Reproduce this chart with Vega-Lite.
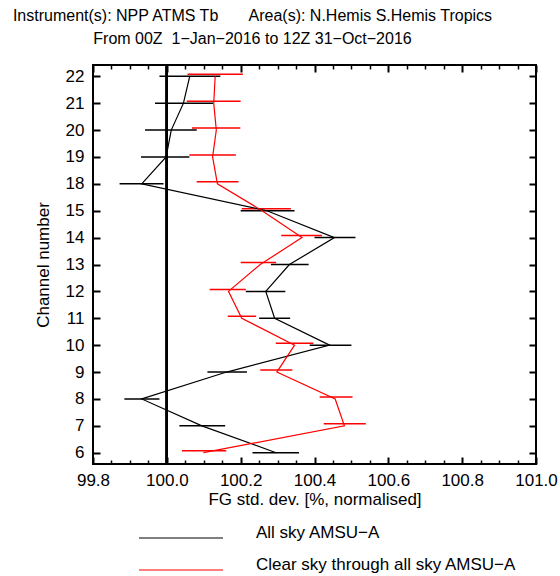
{
  "$schema": "https://vega.github.io/schema/vega-lite/v6.json",
  "autosize": {"type": "none"},
  "padding": {"left": 93, "top": 65, "right": 24, "bottom": 112},
  "width": 443,
  "height": 399,
  "config": {
    "font": "Liberation Sans",
    "view": {"stroke": "#000000", "strokeWidth": 2},
    "axis": {"grid": false, "domain": false, "tickColor": "#000000", "labelColor": "#000000", "titleColor": "#000000", "titleFontWeight": "normal", "labelFont": "Liberation Sans", "titleFont": "Liberation Sans"}
  },
  "title": {
    "text": ["Instrument(s): NPP ATMS Tb\u00a0\u00a0\u00a0\u00a0\u00a0\u00a0 Area(s): N.Hemis S.Hemis Tropics", "From 00Z\u00a0 1\u2212Jan\u22122016 to 12Z 31\u2212Oct\u22122016"],
    "fontSize": 16,
    "font": "Liberation Sans",
    "fontWeight": "normal",
    "color": "#000000",
    "lineHeight": 23,
    "anchor": "middle",
    "dx": -62,
    "offset": 17
  },
  "data": {
    "values": [
      {"series": "All sky AMSU\u2212A", "ch": 22, "val": 100.062, "lo": 99.980, "hi": 100.145},
      {"series": "All sky AMSU\u2212A", "ch": 21, "val": 100.045, "lo": 99.968, "hi": 100.125},
      {"series": "All sky AMSU\u2212A", "ch": 20, "val": 100.012, "lo": 99.941, "hi": 100.081},
      {"series": "All sky AMSU\u2212A", "ch": 19, "val": 99.998, "lo": 99.930, "hi": 100.061},
      {"series": "All sky AMSU\u2212A", "ch": 18, "val": 99.932, "lo": 99.872, "hi": 99.991},
      {"series": "All sky AMSU\u2212A", "ch": 15, "val": 100.271, "lo": 100.200, "hi": 100.346},
      {"series": "All sky AMSU\u2212A", "ch": 14, "val": 100.454, "lo": 100.400, "hi": 100.511},
      {"series": "All sky AMSU\u2212A", "ch": 13, "val": 100.332, "lo": 100.282, "hi": 100.384},
      {"series": "All sky AMSU\u2212A", "ch": 12, "val": 100.268, "lo": 100.214, "hi": 100.321},
      {"series": "All sky AMSU\u2212A", "ch": 11, "val": 100.292, "lo": 100.250, "hi": 100.334},
      {"series": "All sky AMSU\u2212A", "ch": 10, "val": 100.441, "lo": 100.387, "hi": 100.500},
      {"series": "All sky AMSU\u2212A", "ch": 9, "val": 100.162, "lo": 100.110, "hi": 100.217},
      {"series": "All sky AMSU\u2212A", "ch": 8, "val": 99.932, "lo": 99.885, "hi": 99.980},
      {"series": "All sky AMSU\u2212A", "ch": 7, "val": 100.095, "lo": 100.034, "hi": 100.158},
      {"series": "All sky AMSU\u2212A", "ch": 6, "val": 100.296, "lo": 100.232, "hi": 100.358},
      {"series": "Clear sky through all sky AMSU\u2212A", "ch": 22, "val": 100.131, "lo": 100.056, "hi": 100.206},
      {"series": "Clear sky through all sky AMSU\u2212A", "ch": 21, "val": 100.127, "lo": 100.054, "hi": 100.200},
      {"series": "Clear sky through all sky AMSU\u2212A", "ch": 20, "val": 100.134, "lo": 100.068, "hi": 100.199},
      {"series": "Clear sky through all sky AMSU\u2212A", "ch": 19, "val": 100.124, "lo": 100.061, "hi": 100.187},
      {"series": "Clear sky through all sky AMSU\u2212A", "ch": 18, "val": 100.137, "lo": 100.081, "hi": 100.194},
      {"series": "Clear sky through all sky AMSU\u2212A", "ch": 15, "val": 100.258, "lo": 100.203, "hi": 100.336},
      {"series": "Clear sky through all sky AMSU\u2212A", "ch": 14, "val": 100.366, "lo": 100.310, "hi": 100.420},
      {"series": "Clear sky through all sky AMSU\u2212A", "ch": 13, "val": 100.253, "lo": 100.200, "hi": 100.296},
      {"series": "Clear sky through all sky AMSU\u2212A", "ch": 12, "val": 100.167, "lo": 100.116, "hi": 100.214},
      {"series": "Clear sky through all sky AMSU\u2212A", "ch": 11, "val": 100.203, "lo": 100.165, "hi": 100.242},
      {"series": "Clear sky through all sky AMSU\u2212A", "ch": 10, "val": 100.346, "lo": 100.295, "hi": 100.397},
      {"series": "Clear sky through all sky AMSU\u2212A", "ch": 9, "val": 100.298, "lo": 100.253, "hi": 100.340},
      {"series": "Clear sky through all sky AMSU\u2212A", "ch": 8, "val": 100.456, "lo": 100.414, "hi": 100.503},
      {"series": "Clear sky through all sky AMSU\u2212A", "ch": 7, "val": 100.481, "lo": 100.425, "hi": 100.539},
      {"series": "Clear sky through all sky AMSU\u2212A", "ch": 6, "val": 100.099, "lo": 100.041, "hi": 100.161}
    ]
  },
  "resolve": {"axis": {"x": "independent", "y": "independent"}},
  "layer": [
    {
      "transform": [{"filter": "datum.series === 'All sky AMSU\u2212A'"}],
      "mark": {"type": "rule", "color": "#000000", "strokeWidth": 1.5},
      "encoding": {
        "x": {"field": "lo", "type": "quantitative", "scale": {"domain": [99.8, 101.0], "nice": false, "zero": false},
          "axis": {"orient": "bottom", "values": [99.8, 100.0, 100.2, 100.4, 100.6, 100.8, 101.0], "format": ".1f", "tickSize": -7, "tickWidth": 2, "labelPadding": 15, "labelFontSize": 17, "labelFlush": false, "labelOverlap": false, "title": "FG std. dev. [%, normalised]", "titleFontSize": 17, "titlePadding": 3}},
        "x2": {"field": "hi"},
        "y": {"field": "ch", "type": "ordinal", "scale": {"type": "point", "domain": [22, 21, 20, 19, 18, 15, 14, 13, 12, 11, 10, 9, 8, 7, 6], "padding": 0.42},
          "axis": {"orient": "left", "tickSize": -7, "tickWidth": 2, "labelPadding": 16, "labelFontSize": 17, "title": "Channel number", "titleFontSize": 17, "titlePadding": 13}}
      }
    },
    {
      "transform": [{"filter": "datum.series !== 'All sky AMSU\u2212A'"}],
      "mark": {"type": "rule", "color": "#ff0000", "strokeWidth": 1.5, "yOffset": -2},
      "encoding": {
        "x": {"field": "lo", "type": "quantitative",
          "axis": {"orient": "bottom", "values": [99.85, 99.9, 99.95, 100.05, 100.1, 100.15, 100.25, 100.3, 100.35, 100.45, 100.5, 100.55, 100.65, 100.7, 100.75, 100.85, 100.9, 100.95], "tickSize": -4, "tickWidth": 1.5, "labels": false, "title": null}},
        "x2": {"field": "hi"},
        "y": {"field": "ch", "type": "ordinal",
          "axis": {"orient": "right", "tickSize": -7, "tickWidth": 2, "labels": false, "title": null}}
      }
    },
    {
      "mark": {"type": "line", "strokeWidth": 1.2},
      "encoding": {
        "x": {"field": "val", "type": "quantitative",
          "axis": {"orient": "top", "values": [99.8, 100.0, 100.2, 100.4, 100.6, 100.8, 101.0], "tickSize": -7, "tickWidth": 2, "labels": false, "title": null}},
        "y": {"field": "ch", "type": "ordinal", "axis": null},
        "order": {"field": "ch", "type": "quantitative"},
        "color": {"field": "series", "type": "nominal",
          "scale": {"domain": ["All sky AMSU\u2212A", "Clear sky through all sky AMSU\u2212A"], "range": ["#000000", "#ff0000"]},
          "legend": {"orient": "none", "legendX": 45, "legendY": 457, "title": null, "symbolType": "stroke", "symbolSize": 7056, "symbolStrokeWidth": 1.2, "clipHeight": 32, "rowPadding": 0, "labelOffset": 32, "labelFontSize": 17, "labelFont": "Liberation Sans", "labelBaseline": "alphabetic", "labelColor": "#000000", "padding": 0, "labelLimit": 400}}
      }
    },
    {
      "mark": {"type": "rule", "color": "#000000", "strokeWidth": 1.8},
      "encoding": {
        "x": {"datum": 100.0, "type": "quantitative",
          "axis": {"orient": "top", "values": [99.85, 99.9, 99.95, 100.05, 100.1, 100.15, 100.25, 100.3, 100.35, 100.45, 100.5, 100.55, 100.65, 100.7, 100.75, 100.85, 100.9, 100.95], "tickSize": -4, "tickWidth": 1.5, "labels": false, "title": null}}
      }
    }
  ]
}
